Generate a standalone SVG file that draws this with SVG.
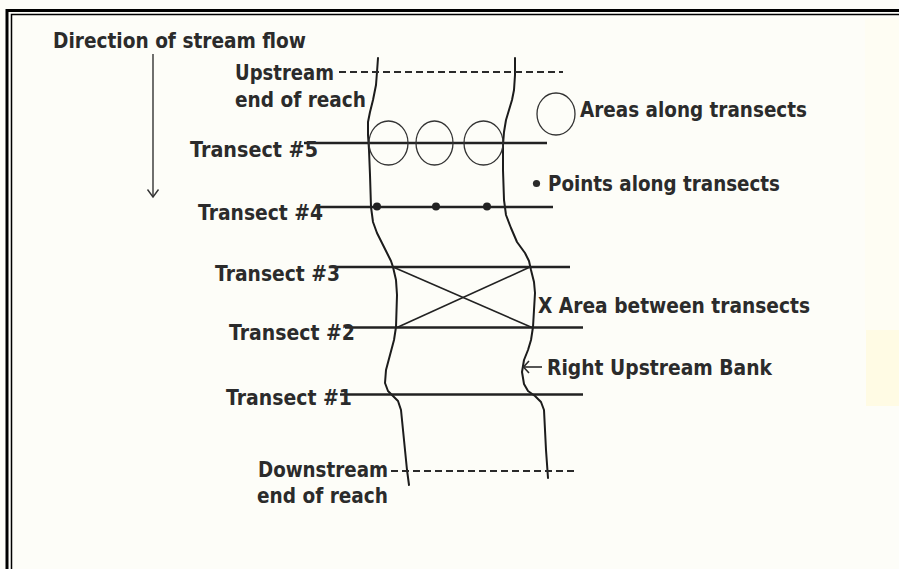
<svg xmlns="http://www.w3.org/2000/svg" width="899" height="569" viewBox="0 0 899 569">
<style>
.lbl{font-family:"DejaVu Sans","Liberation Sans",sans-serif;font-weight:bold;font-size:22px;fill:#2b2b2b}
.tr{stroke:#222;stroke-width:2.6;fill:none}
.bank{stroke:#1c1c1c;stroke-width:2;fill:none;stroke-linejoin:round;stroke-linecap:round}
.dash{stroke:#2a2a2a;stroke-width:2.2;stroke-dasharray:7 4;fill:none}
.circ{stroke:#333;stroke-width:1.3;fill:none}
.thin{stroke:#222;stroke-width:1.6;fill:none}
</style>
<rect x="0" y="0" width="899" height="569" fill="#fdfdf8"/>
<rect x="865" y="18" width="34" height="312" fill="#fefdf3"/>
<rect x="866" y="330" width="33" height="76" fill="#fffbe4"/>
<g id="frame">
<path d="M7,569 V10.5 H899" fill="none" stroke="#000" stroke-width="3"/>
<path d="M11.5,569 V14.5 H899" fill="none" stroke="#000" stroke-width="1.5"/>
</g>
<g id="direction">
<text class="lbl" x="53" y="48" textLength="253" lengthAdjust="spacingAndGlyphs">Direction of stream flow</text>
</g>
<g id="banks">
<polyline id="left-bank" class="bank" points="378,58 377,72 376,85 373,100 370,112 368,122 368,135 369,150 370,175 371,207 373,222 377,233 382,243 387,253 391,261 393,267 396,280 397,295 396,327 394,340 390,355 386,370 385,383 388,391 393,396 398,401 401,410 403,430 405,450 407,470 409,485"/>
<polyline id="right-bank" class="bank" points="515,58 515,75 514,90 512,100 509,110 506,120 504,132 503,145 503,170 504,200 506,215 511,228 517,242 525,253 529,261 531,270 534,282 535,293 534,310 533,327 531,340 528,350 524,360 522,372 524,384 528,391 535,396 541,402 544,410 545,430 546,450 548,478"/>
</g>
<g id="upstream">
<text class="lbl" x="235" y="80" textLength="99" lengthAdjust="spacingAndGlyphs">Upstream</text>
<text class="lbl" x="235" y="107" textLength="131" lengthAdjust="spacingAndGlyphs">end of reach</text>
</g>
<g id="downstream">
<text class="lbl" x="258" y="477" textLength="130" lengthAdjust="spacingAndGlyphs">Downstream</text>
<text class="lbl" x="257" y="503" textLength="131" lengthAdjust="spacingAndGlyphs">end of reach</text>
</g>
<g id="transect-5">
<line class="tr" x1="304" y1="143" x2="547" y2="143"/>
<text class="lbl" x="190" y="157" textLength="128" lengthAdjust="spacingAndGlyphs">Transect #5</text>
</g>
<g id="transect-4">
<line class="tr" x1="316" y1="207" x2="553" y2="207"/>
<text class="lbl" x="198" y="220" textLength="125" lengthAdjust="spacingAndGlyphs">Transect #4</text>
</g>
<g id="transect-3">
<line class="tr" x1="330" y1="267" x2="570" y2="267"/>
<text class="lbl" x="215" y="281" textLength="125" lengthAdjust="spacingAndGlyphs">Transect #3</text>
</g>
<g id="transect-2">
<line class="tr" x1="345" y1="327.5" x2="583" y2="327.5"/>
<text class="lbl" x="229" y="340" textLength="126" lengthAdjust="spacingAndGlyphs">Transect #2</text>
</g>
<g id="transect-1">
<line class="tr" x1="340" y1="394.5" x2="583" y2="394.5"/>
<text class="lbl" x="226" y="405" textLength="126" lengthAdjust="spacingAndGlyphs">Transect #1</text>
</g>
<g id="areas">
<ellipse class="circ" cx="388.5" cy="143" rx="19.5" ry="22"/>
<ellipse class="circ" cx="434.5" cy="143" rx="18.5" ry="22"/>
<ellipse class="circ" cx="483.5" cy="143" rx="19.5" ry="22"/>
</g>
<g id="points">
<circle cx="377" cy="206.5" r="4" fill="#222"/>
<circle cx="436" cy="206.5" r="4" fill="#222"/>
<circle cx="487" cy="206.5" r="4" fill="#222"/>
</g>
<g id="area-between">
<line class="thin" x1="393" y1="267" x2="532" y2="327.5"/>
<line class="thin" x1="397" y1="327.5" x2="530" y2="267"/>
</g>
<g id="legend-areas">
<ellipse class="circ" cx="556" cy="114" rx="19" ry="21"/>
<text class="lbl" x="580" y="117" textLength="227" lengthAdjust="spacingAndGlyphs">Areas along transects</text>
</g>
<g id="legend-points">
<circle cx="536.5" cy="183.5" r="3.6" fill="#2b2b2b"/>
<text class="lbl" x="548" y="191" textLength="232" lengthAdjust="spacingAndGlyphs">Points along transects</text>
</g>
<g id="legend-between">
<text class="lbl" x="538" y="313" textLength="272" lengthAdjust="spacingAndGlyphs">X Area between transects</text>
</g>
<g id="legend-bank">
<text class="lbl" x="547" y="375" textLength="225" lengthAdjust="spacingAndGlyphs">Right Upstream Bank</text>
</g>
<g id="connectors">
<line class="dash" x1="339" y1="72" x2="563" y2="72"/>
<line class="dash" x1="391" y1="471" x2="574" y2="471"/>
<line x1="153" y1="54" x2="153" y2="197" stroke="#333" stroke-width="1.4"/>
<polyline points="147.5,189.5 153,197 158.5,189.5" fill="none" stroke="#333" stroke-width="1.4"/>
<line x1="523.5" y1="367" x2="542" y2="367" stroke="#2b2b2b" stroke-width="1.6"/>
<polyline points="529,361 523.5,367 529,373" fill="none" stroke="#2b2b2b" stroke-width="1.6"/>
</g>
</svg>
